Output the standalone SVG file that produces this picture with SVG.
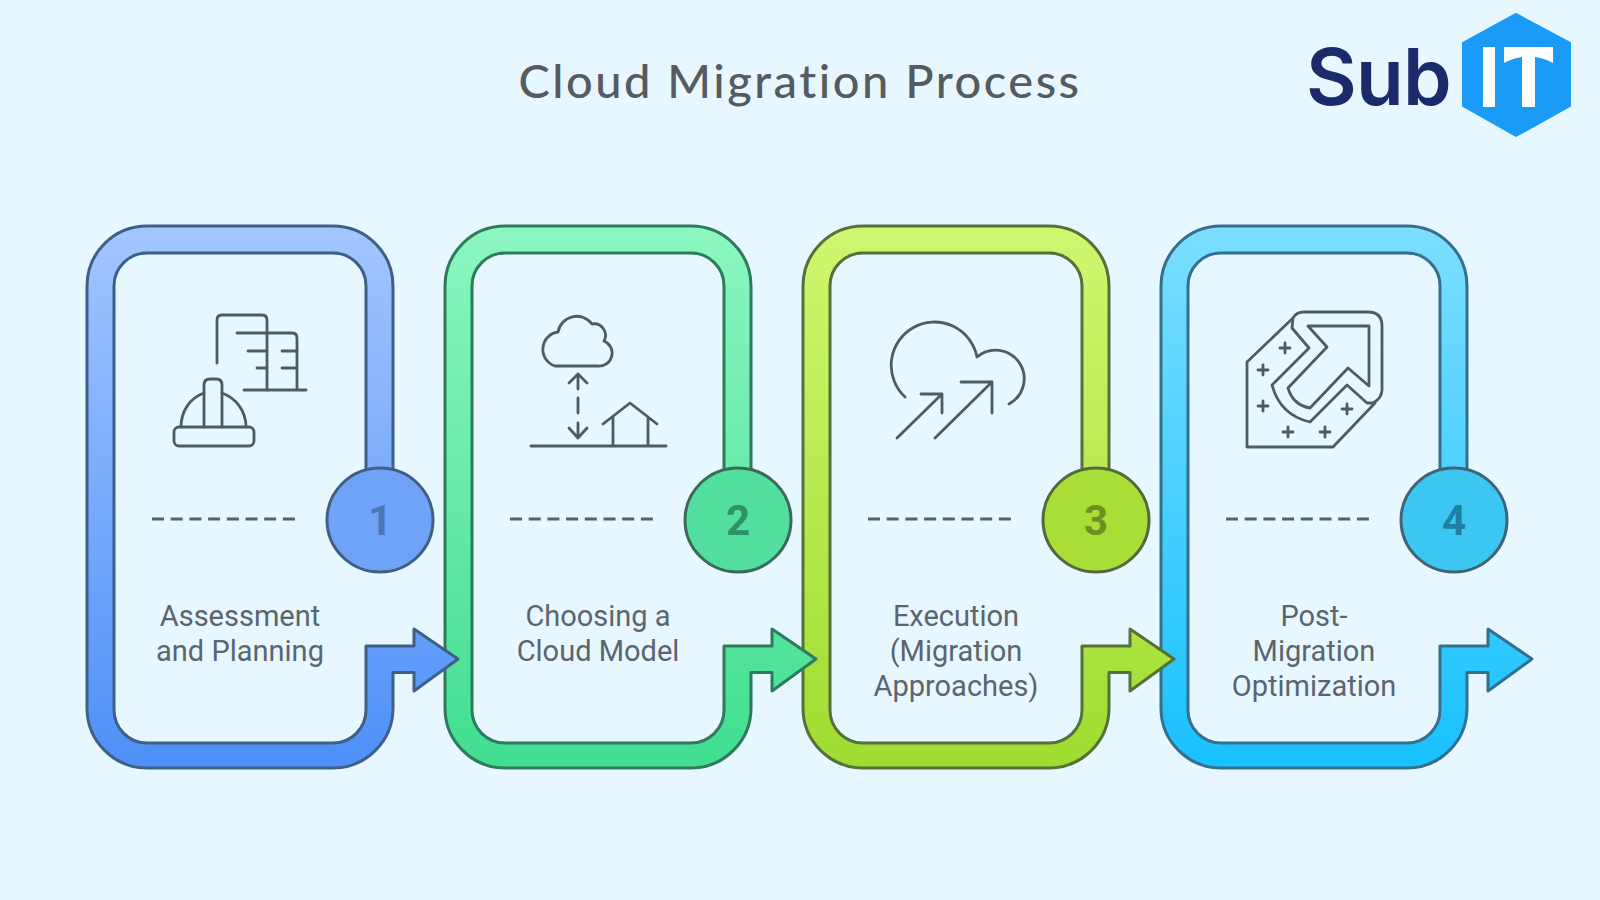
<svg xmlns="http://www.w3.org/2000/svg" xmlns:xlink="http://www.w3.org/1999/xlink" width="1600" height="900" viewBox="0 0 1600 900">
<defs>
<linearGradient id="g1" x1="0" y1="0" x2="0" y2="1"><stop offset="0" stop-color="#a3c6ff"/><stop offset="1" stop-color="#4e90f8"/></linearGradient>
<linearGradient id="g2" x1="0" y1="0" x2="0" y2="1"><stop offset="0" stop-color="#8cf7bf"/><stop offset="1" stop-color="#41de90"/></linearGradient>
<linearGradient id="g3" x1="0" y1="0" x2="0" y2="1"><stop offset="0" stop-color="#cff770"/><stop offset="1" stop-color="#a0dc30"/></linearGradient>
<linearGradient id="g4" x1="0" y1="0" x2="0" y2="1"><stop offset="0" stop-color="#7cdeff"/><stop offset="1" stop-color="#18c1ff"/></linearGradient>
<path id="band" d="M393 480V286A60 60 0 0 0 333 226H147A60 60 0 0 0 87 286V708A60 60 0 0 0 147 768H333A60 60 0 0 0 393 708V672.5H414V691L458 659L414 629V646H366V710A33 33 0 0 1 333 743H147A33 33 0 0 1 114 710V286A33 33 0 0 1 147 253H333A33 33 0 0 1 366 286V480Z"/>
<g id="plus"><path d="M-5 0H5M0 -5V5"/></g>
</defs>
<style>
.ic{fill:none;stroke:#4f5a63;stroke-width:2.8;stroke-linecap:round;stroke-linejoin:round}
.dash{fill:none;stroke:#566069;stroke-width:2.8;stroke-dasharray:12 6.7}
.lbl{font-family:Roboto,"Liberation Sans",sans-serif;font-size:29px;fill:#5a656e;text-anchor:middle}
.num{font-family:Roboto,"Liberation Sans",sans-serif;font-size:42px;font-weight:700;text-anchor:middle}
.edge{stroke-width:3;stroke-linejoin:round}
.disc{stroke-width:3}
</style>
<rect width="1600" height="900" fill="#e7f7ff"/>
<text id="title" x="800" y="98" text-anchor="middle" font-family="Lato,'Noto Sans',sans-serif" font-size="47" font-weight="500" letter-spacing="2.5" fill="#555b60">Cloud Migration Process</text>
<g id="logo">
<text x="1306" y="105" font-family="Inter,'Liberation Sans',sans-serif" font-size="78" font-weight="600" letter-spacing="-0.8" fill="#1b2a6b">Sub</text>
<path d="M1516 14L1570 43V106L1516 136L1463 106V43Z" fill="#1a9bf7" stroke="#1a9bf7" stroke-width="2" stroke-linejoin="round"/>
<rect x="1483" y="47" width="12" height="60" fill="#fff"/>
<path d="M1504 47H1553V63Q1530 50 1504 63Z" fill="#fff"/>
<rect x="1522" y="55" width="13" height="52" fill="#fff"/>
</g>
<g id="connectors"/>
<g id="step4" transform="translate(1074 0)">
<use xlink:href="#band" href="#band" fill="url(#g4)" stroke="#34708e" class="edge"/>
<ellipse class="disc" cx="380" cy="520" rx="53" ry="52" fill="#3cc6f2" stroke="#3f6478"/>
<text class="num" x="380" y="535" fill="#1f7fa6">4</text>
<path class="dash" d="M152 519H295"/>
<text class="lbl" x="240" y="626">Post-</text>
<text class="lbl" x="240" y="661">Migration</text>
<text class="lbl" x="240" y="696">Optimization</text>
</g>
<g id="icon4" class="ic">
<path d="M1292 319L1247 362V447H1333L1375 403"/>
<path d="M1292 328L1293 318Q1296 312 1304 312H1368Q1382 312 1382 326V390Q1382 398 1373 403H1367L1347 385L1310 422Q1280 415 1272 385L1309 348Z"/>
<path d="M1308 326H1369V386L1348 368L1310 408Q1293 405 1288 388L1327 347Z"/>
<use href="#plus" x="1285" y="348"/><use href="#plus" x="1263" y="370"/><use href="#plus" x="1263" y="406"/><use href="#plus" x="1288" y="432"/><use href="#plus" x="1325" y="432"/><use href="#plus" x="1347" y="409"/>
</g>
<g id="step3" transform="translate(716 0)">
<use xlink:href="#band" href="#band" fill="url(#g3)" stroke="#56703a" class="edge"/>
<ellipse class="disc" cx="380" cy="520" rx="53" ry="52" fill="#a9dd38" stroke="#55683a"/>
<text class="num" x="380" y="535" fill="#6c9022">3</text>
<path class="dash" d="M152 519H295"/>
<text class="lbl" x="240" y="626">Execution</text>
<text class="lbl" x="240" y="661">(Migration</text>
<text class="lbl" x="240" y="696">Approaches)</text>
</g>
<g id="icon3" class="ic">
<path d="M905 397A43.3 43.3 0 1 1 977 357A28.6 28.6 0 1 1 1009 404"/>
<path d="M897 438L942 394M921 394H942V413"/>
<path d="M935 438L992 382M961 382H992V413"/>
</g>
<g id="step2" transform="translate(358 0)">
<use xlink:href="#band" href="#band" fill="url(#g2)" stroke="#2f7a5c" class="edge"/>
<ellipse class="disc" cx="380" cy="520" rx="53" ry="52" fill="#52de9e" stroke="#3c6a58"/>
<text class="num" x="380" y="535" fill="#2c9268">2</text>
<path class="dash" d="M152 519H295"/>
<text class="lbl" x="240" y="626">Choosing a</text>
<text class="lbl" x="240" y="661">Cloud Model</text>
</g>
<g id="icon2" class="ic">
<path d="M555 366A17.5 17.5 0 0 1 558 332A19 19 0 0 1 592 324A11.5 11.5 0 0 1 604 341A13 13 0 0 1 598 366Z"/>
<path d="M578 374V389M578 398V413M578 423V438M569 383L578 374L587 383M569 428L578 438L587 428"/>
<path d="M531 446H666M613 417V446M648 417V446M603 424L630 403L657 424"/>
</g>
<g id="step1">
<use xlink:href="#band" href="#band" fill="url(#g1)" stroke="#3f5f86" class="edge"/>
<ellipse class="disc" cx="380" cy="520" rx="53" ry="52" fill="#6fa3f8" stroke="#415f84"/>
<text class="num" x="380" y="535" fill="#4a77b6">1</text>
<path class="dash" d="M152 519H295"/>
<text class="lbl" x="240" y="626">Assessment</text>
<text class="lbl" x="240" y="661">and Planning</text>
</g>
<g id="icon1" class="ic">
<path d="M217 363V320Q217 315 222 315H262Q267 315 267 320V390"/>
<path d="M237 333H292Q297 333 297 338V390M244 390H306"/>
<path d="M248 351H267M257 368H267M282 351H297M282 368H297"/>
<rect x="174" y="427" width="80" height="19" rx="5"/>
<path d="M204 427V385Q204 379 210 379H216Q222 379 222 385V427"/>
<path d="M181 427C181 411 190 398 204 393M222 393C236 398 246 411 246 427"/>
</g>
</svg>
